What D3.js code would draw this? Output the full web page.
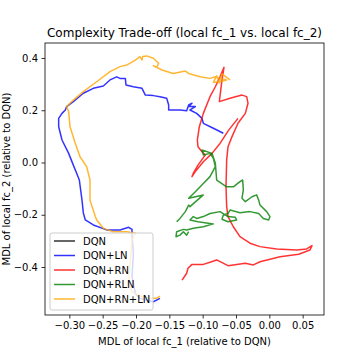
<!DOCTYPE html>
<html>
<head>
<meta charset="utf-8">
<script src="https://cdn.jsdelivr.net/npm/d3@7"></script>
<style>
  body { margin: 0; background: #fff; }
  svg { display: block; font-family: "DejaVu Sans", sans-serif; }
</style>
</head>
<body>
<svg id="chart" width="360" height="360"></svg>
<script>
// series names, legend order
var labels = ['DQN', 'DQN+LN', 'DQN+RN', 'DQN+RLN', 'DQN+RN+LN'];
var colors = ['black', 'blue', 'red', 'green', 'orange'];

var xTicks = [-0.30, -0.25, -0.20, -0.15, -0.10, -0.05, 0.00, 0.05];
var yTicks = [-0.4, -0.2, 0.0, 0.2, 0.4];

// [mdl fc_1, mdl fc_2] relative to DQN
var dqn = [[0, 0]];

var dqnLn = [
  [-0.164, -0.520], [-0.174, -0.533], [-0.194, -0.520], [-0.201, -0.501], [-0.206, -0.437],
  [-0.204, -0.348], [-0.206, -0.278], [-0.206, -0.256], [-0.211, -0.248], [-0.224, -0.258],
  [-0.244, -0.258], [-0.264, -0.239], [-0.276, -0.220], [-0.279, -0.193], [-0.281, -0.144],
  [-0.285, -0.067], [-0.289, -0.041], [-0.294, -0.010], [-0.301, 0.035], [-0.311, 0.086],
  [-0.316, 0.137], [-0.316, 0.169], [-0.311, 0.188], [-0.306, 0.201], [-0.304, 0.214],
  [-0.294, 0.233], [-0.279, 0.265], [-0.264, 0.284], [-0.249, 0.293], [-0.239, 0.316],
  [-0.229, 0.328], [-0.224, 0.322], [-0.216, 0.322], [-0.215, 0.297], [-0.204, 0.290],
  [-0.191, 0.284], [-0.186, 0.258], [-0.174, 0.256], [-0.164, 0.252], [-0.154, 0.246],
  [-0.151, 0.220], [-0.151, 0.201], [-0.134, 0.201], [-0.124, 0.198], [-0.121, 0.220],
  [-0.116, 0.227], [-0.121, 0.214], [-0.111, 0.214], [-0.119, 0.201], [-0.109, 0.188],
  [-0.101, 0.169], [-0.099, 0.150], [-0.084, 0.131], [-0.069, 0.112]
];

var dqnRn = [
  [-0.047, 0.169], [-0.061, 0.124], [-0.074, 0.073], [-0.086, 0.035], [-0.099, 0.003],
  [-0.111, -0.035], [-0.116, -0.054], [-0.114, -0.041], [-0.107, -0.010], [-0.096, 0.029],
  [-0.101, 0.041], [-0.107, 0.060], [-0.108, 0.086], [-0.105, 0.137], [-0.099, 0.188],
  [-0.089, 0.252], [-0.081, 0.290], [-0.074, 0.328], [-0.068, 0.364], [-0.071, 0.316],
  [-0.075, 0.233], [-0.059, 0.246], [-0.041, 0.258], [-0.034, 0.252], [-0.032, 0.227],
  [-0.036, 0.188], [-0.047, 0.150], [-0.056, 0.099], [-0.062, 0.060], [-0.064, 0.010],
  [-0.065, -0.093], [-0.064, -0.169], [-0.062, -0.207], [-0.054, -0.246], [-0.044, -0.284],
  [-0.029, -0.309], [-0.014, -0.322], [0.011, -0.331], [0.041, -0.335], [0.056, -0.331],
  [0.064, -0.318], [0.061, -0.335], [0.044, -0.351], [0.016, -0.361], [-0.014, -0.380],
  [-0.024, -0.392], [-0.036, -0.386], [-0.049, -0.390], [-0.062, -0.395], [-0.079, -0.373],
  [-0.089, -0.382], [-0.099, -0.390], [-0.116, -0.390], [-0.122, -0.405], [-0.124, -0.424],
  [-0.129, -0.443], [-0.131, -0.450]
];

var dqnRln = [
  [-0.139, -0.227], [-0.134, -0.214], [-0.126, -0.188], [-0.121, -0.163], [-0.119, -0.169],
  [-0.099, -0.124], [-0.121, -0.137], [-0.111, -0.112], [-0.099, -0.080], [-0.089, -0.054],
  [-0.081, -0.016], [-0.084, 0.016], [-0.089, 0.035], [-0.099, 0.029], [-0.101, 0.048],
  [-0.086, 0.035], [-0.081, -0.003], [-0.079, -0.067], [-0.064, -0.093], [-0.054, -0.093],
  [-0.044, -0.073], [-0.040, -0.067], [-0.039, -0.105], [-0.041, -0.137], [-0.036, -0.150],
  [-0.026, -0.131], [-0.019, -0.124], [-0.016, -0.144], [-0.014, -0.163], [-0.004, -0.188],
  [0.001, -0.207], [-0.001, -0.220], [-0.009, -0.214], [-0.016, -0.195], [-0.029, -0.188],
  [-0.044, -0.192], [-0.059, -0.182], [-0.062, -0.195], [-0.069, -0.201], [-0.071, -0.217],
  [-0.062, -0.227], [-0.049, -0.220], [-0.051, -0.210], [-0.062, -0.207], [-0.074, -0.188],
  [-0.089, -0.195], [-0.099, -0.207], [-0.109, -0.214], [-0.114, -0.207], [-0.119, -0.220],
  [-0.107, -0.227], [-0.084, -0.235], [-0.099, -0.246], [-0.114, -0.252], [-0.124, -0.258],
  [-0.129, -0.256], [-0.139, -0.265], [-0.140, -0.284], [-0.134, -0.278], [-0.129, -0.265],
  [-0.124, -0.278], [-0.121, -0.265]
];

var dqnRnLn = [
  [-0.164, -0.511], [-0.169, -0.520], [-0.179, -0.520], [-0.191, -0.514], [-0.206, -0.495],
  [-0.211, -0.462], [-0.209, -0.386], [-0.206, -0.297], [-0.201, -0.271], [-0.214, -0.265],
  [-0.234, -0.265], [-0.249, -0.252], [-0.259, -0.220], [-0.261, -0.207], [-0.269, -0.144],
  [-0.269, -0.067], [-0.274, -0.016], [-0.284, 0.022], [-0.291, 0.073], [-0.299, 0.137],
  [-0.301, 0.194], [-0.304, 0.214], [-0.294, 0.239], [-0.279, 0.271], [-0.259, 0.309],
  [-0.239, 0.348], [-0.224, 0.367], [-0.214, 0.373], [-0.201, 0.392], [-0.194, 0.405],
  [-0.191, 0.392], [-0.190, 0.406], [-0.184, 0.408], [-0.174, 0.399], [-0.166, 0.380],
  [-0.169, 0.363], [-0.174, 0.371], [-0.161, 0.354], [-0.144, 0.341], [-0.126, 0.350],
  [-0.121, 0.341], [-0.104, 0.328], [-0.089, 0.322], [-0.081, 0.328], [-0.074, 0.322],
  [-0.064, 0.316], [-0.074, 0.309], [-0.084, 0.307], [-0.079, 0.332], [-0.075, 0.304],
  [-0.071, 0.339], [-0.059, 0.316]
];

var series = [dqn, dqnLn, dqnRn, dqnRln, dqnRnLn];

var margin = {left: 45, top: 43, right: 36, bottom: 45};
var width = 360 - margin.left - margin.right;
var height = 360 - margin.top - margin.bottom;

var svg = d3.select('#chart');

var g = svg.append('g')
    .attr('transform', `translate(${margin.left} ${margin.top})`);

var x = d3.scaleLinear()
    .domain([-0.3365, 0.082])
    .range([0, width]);

var y = d3.scaleLinear()
    .domain([-0.5837, 0.4574])
    .range([height, 0]);

var minus = s => s.replace('-', '\u2212');

let xAxis = d3.axisBottom(x)
    .tickValues(xTicks)
    .tickSize(3.5)
    .tickPadding(3.5)
    .tickFormat(d => minus(d3.format('.2f')(d)));

let yAxis = d3.axisLeft(y)
    .tickValues(yTicks)
    .tickSize(3.5)
    .tickPadding(3.5)
    .tickFormat(d => minus(d3.format('.1f')(d)));

g.append('g')
    .attr('transform', `translate(0 ${height})`)
    .call(xAxis);

g.append('g')
    .call(yAxis);

g.selectAll('.domain').remove();
g.selectAll('.tick line').attr('stroke', '#000').attr('stroke-width', 0.8);
g.selectAll('.tick text')
    .attr('fill', '#000')
    .style('font-size', '10px')
    .style('font-family', '"DejaVu Sans", sans-serif');

// lines
var line = d3.line()
    .x(d => x(d[0]))
    .y(d => y(d[1]));

g.append('defs').append('clipPath')
    .attr('id', 'clip')
    .append('rect')
    .attr('width', width)
    .attr('height', height);

g.append('g')
    .attr('clip-path', 'url(#clip)')
    .selectAll('path')
    .data(series)
    .enter()
    .append('path')
    .attr('d', d => d.length > 1 ? line(d) : null)
    .attr('fill', 'none')
    .attr('stroke', (d, i) => colors[i])
    .attr('stroke-opacity', 0.8)
    .attr('stroke-width', 1.5)
    .attr('stroke-linejoin', 'round');

// frame
g.append('rect')
    .attr('width', width)
    .attr('height', height)
    .attr('fill', 'none')
    .attr('stroke', '#000')
    .attr('stroke-width', 0.8);

// legend
var legend = g.append('g')
    .attr('transform', 'translate(5 190)');

legend.append('rect')
    .attr('width', 103)
    .attr('height', 77)
    .attr('rx', 2)
    .attr('fill', '#fff')
    .attr('fill-opacity', 0.8)
    .attr('stroke', '#cccccc')
    .attr('stroke-width', 1);

let rows = legend.selectAll('.row')
    .data(labels)
    .enter()
    .append('g')
    .attr('class', 'row')
    .attr('transform', (d, i) => `translate(0 ${8 + i * 14.5})`);

rows.append('line')
    .attr('x1', 4)
    .attr('x2', 25)
    .attr('stroke', (d, i) => colors[i])
    .attr('stroke-opacity', 0.8)
    .attr('stroke-width', 1.5);

rows.append('text')
    .attr('x', 33)
    .attr('y', 3.6)
    .style('font-size', '10px')
    .text(d => d);

// title and labels
svg.append('text')
    .attr('x', margin.left + width / 2)
    .attr('y', 37)
    .attr('text-anchor', 'middle')
    .style('font-size', '12px')
    .text('Complexity Trade-off (local fc_1 vs. local fc_2)');

svg.append('text')
    .attr('x', margin.left + width / 2)
    .attr('y', 345)
    .attr('text-anchor', 'middle')
    .style('font-size', '10px')
    .text('MDL of local fc_1 (relative to DQN)');

svg.append('text')
    .attr('transform', `translate(10 ${margin.top + height / 2}) rotate(-90)`)
    .attr('text-anchor', 'middle')
    .style('font-size', '10px')
    .text('MDL of local fc_2 (relative to DQN)');
</script>
</body>
</html>
